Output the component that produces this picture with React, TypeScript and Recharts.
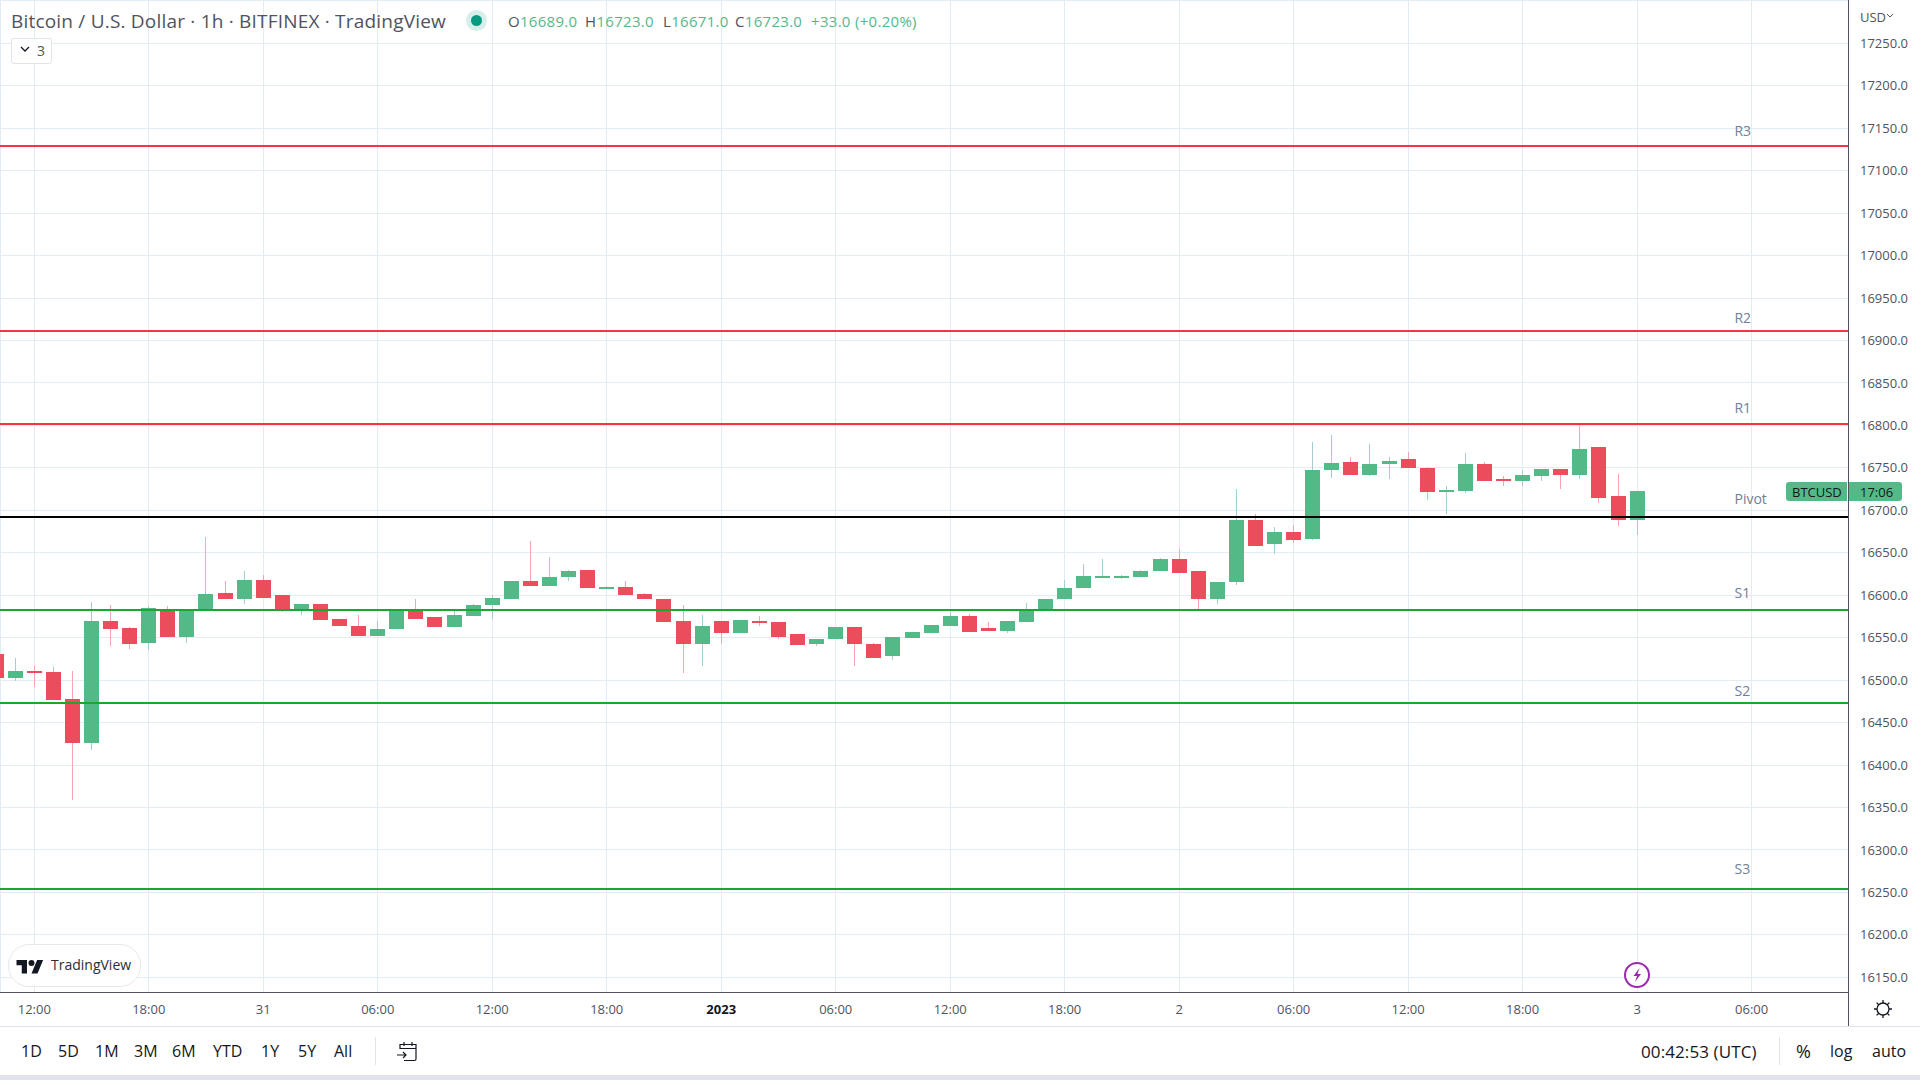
import React from 'react';
import {
  ComposedChart,
  Bar,
  XAxis,
  YAxis,
  CartesianGrid,
  ReferenceLine,
  ReferenceDot,
} from 'recharts';

// hourly candles, hour 0 = 30 Dec 12:00
const firstHour = -2;
const opens = [
  16531, 16502, 16511, 16509, 16478, 16426, 16570, 16561, 16544, 16584, 16551, 16581, 16603, 16596, 16618,
  16600, 16582, 16590, 16572, 16564, 16552, 16560, 16583, 16574, 16563, 16576, 16588, 16596, 16617, 16611,
  16621, 16630, 16608, 16610, 16601, 16595, 16570, 16543, 16570, 16556, 16570, 16569, 16554, 16543, 16548,
  16563, 16543, 16528, 16550, 16556, 16564, 16576, 16561, 16558, 16569, 16583, 16596, 16609, 16622, 16622,
  16622, 16628, 16643, 16628, 16595, 16615, 16689, 16660, 16674, 16666, 16748, 16757, 16741, 16755, 16760,
  16750, 16721, 16723, 16755, 16737, 16734, 16740, 16749, 16741, 16774, 16717, 16689,
];
const closes = [
  16502, 16511, 16508, 16477, 16426, 16570, 16560, 16542, 16585, 16551, 16581, 16602, 16596, 16618, 16597,
  16581, 16590, 16571, 16564, 16552, 16560, 16583, 16572, 16563, 16577, 16588, 16597, 16617, 16611, 16622,
  16629, 16609, 16610, 16600, 16595, 16569, 16543, 16564, 16556, 16571, 16568, 16551, 16541, 16548, 16563,
  16542, 16526, 16551, 16557, 16565, 16576, 16557, 16558, 16570, 16583, 16595, 16608, 16623, 16623, 16623,
  16629, 16643, 16626, 16596, 16615, 16689, 16658, 16674, 16665, 16748, 16756, 16741, 16755, 16758, 16750,
  16721, 16724, 16755, 16735, 16734, 16741, 16749, 16741, 16772, 16715, 16689, 16723,
];
const highs = [
  16533, 16526, 16517, 16516, 16511, 16592, 16589, 16562, 16587, 16587, 16581, 16668, 16617, 16629, 16624,
  16600, 16590, 16590, 16572, 16577, 16570, 16583, 16595, 16574, 16583, 16590, 16600, 16617, 16664, 16645,
  16630, 16630, 16611, 16617, 16603, 16596, 16588, 16577, 16570, 16571, 16575, 16569, 16554, 16548, 16563,
  16563, 16544, 16551, 16557, 16565, 16581, 16578, 16569, 16570, 16591, 16595, 16618, 16637, 16643, 16624,
  16630, 16644, 16654, 16628, 16616, 16725, 16696, 16680, 16683, 16781, 16789, 16763, 16778, 16763, 16769,
  16751, 16729, 16767, 16757, 16740, 16748, 16749, 16749, 16801, 16775, 16743, 16723,
];
const lows = [
  16500, 16499, 16492, 16477, 16359, 16418, 16540, 16537, 16535, 16551, 16544, 16581, 16596, 16590, 16597,
  16580, 16577, 16571, 16564, 16552, 16552, 16560, 16572, 16563, 16563, 16576, 16572, 16595, 16611, 16611,
  16617, 16608, 16608, 16600, 16595, 16569, 16508, 16517, 16542, 16556, 16564, 16549, 16541, 16540, 16548,
  16517, 16526, 16524, 16550, 16556, 16564, 16557, 16558, 16556, 16569, 16583, 16596, 16609, 16622, 16619,
  16622, 16628, 16626, 16584, 16590, 16612, 16658, 16648, 16662, 16665, 16738, 16741, 16740, 16737, 16750,
  16712, 16696, 16720, 16735, 16729, 16729, 16735, 16725, 16737, 16709, 16681, 16671,
];

const timeTicks = [0, 6, 12, 18, 24, 30, 36, 42, 48, 54, 60, 66, 72, 78, 84, 90];
const timeLabels = ['12:00', '18:00', '31', '06:00', '12:00', '18:00', '2023', '06:00', '12:00', '18:00', '2', '06:00', '12:00', '18:00', '3', '06:00'];
const priceTicks = [
  16150, 16200, 16250, 16300, 16350, 16400, 16450, 16500, 16550, 16600, 16650, 16700, 16750, 16800, 16850,
  16900, 16950, 17000, 17050, 17100, 17150, 17200, 17250, 17300,
];

const levelNames = ['R3', 'R2', 'R1', 'Pivot', 'S1', 'S2', 'S3'];
const levelPrices = [17129.6, 16911, 16801.6, 16692.1, 16582.6, 16473.1, 16254];
const levelTagPrices = [17147, 16927, 16821.5, 16714, 16603, 16487.5, 16278];
const levelColors = ['#f23645', '#f23645', '#f23645', '#000000', '#18a82b', '#18a82b', '#18a82b'];

const legendLetters = ['O', 'H', 'L', 'C'];
const legendValues = ['16689.0', '16723.0', '16671.0', '16723.0'];
const legendLefts = [508, 585, 663, 735];

const rangeButtons = ['1D', '5D', '1M', '3M', '6M', 'YTD', '1Y', '5Y', 'All'];
const rangeLefts = [21, 58, 95, 134, 172, 213, 261, 298, 334];

const candles = opens.map((open, i) => ({
  hour: firstHour + i,
  open,
  close: closes[i],
  high: highs[i],
  low: lows[i],
  range: [lows[i], highs[i]],
}));

const FONT = '"Open Sans", sans-serif';
const UP = '#53b987';
const DOWN = '#eb4d5c';

function Candle(props: any) {
  const { x, y, width, height, payload } = props;
  const { open, close, high, low } = payload;
  const k = height / (high - low);
  const up = close >= open;
  const top = y + (high - Math.max(open, close)) * k;
  const bottom = y + (high - Math.min(open, close)) * k;
  const cx = x + width / 2;
  return (
    <g>
      <rect x={Math.round(cx - 0.5)} y={y} width={1} height={height} fill={up ? '#a3d0ce' : '#f8a3ae'} />
      <rect
        x={Math.round(cx - 7.5)}
        y={Math.round(top)}
        width={15}
        height={Math.max(2, Math.round(bottom) - Math.round(top))}
        fill={up ? UP : DOWN}
      />
    </g>
  );
}

function TimeTick(props: any) {
  const { x, y, payload } = props;
  const label = timeLabels[timeTicks.indexOf(payload.value)];
  const bold = label === '2023';
  return (
    <text
      x={x}
      y={y}
      textAnchor="middle"
      dominantBaseline="central"
      fontFamily={FONT}
      fontSize={13}
      fontWeight={bold ? 700 : 400}
      fill={bold ? '#131722' : '#50535e'}
    >
      {label}
    </text>
  );
}

function Txt({ x, y, size = 13, color = '#131722', children, style }: any) {
  return (
    <span
      style={{
        position: 'absolute',
        left: x,
        top: y,
        fontFamily: FONT,
        fontSize: size,
        lineHeight: 1,
        color,
        whiteSpace: 'nowrap',
        transform: 'translateY(-50%)',
        ...style,
      }}
    >
      {children}
    </span>
  );
}

function Box({ x, y, w, h, bg }: any) {
  return <div style={{ position: 'absolute', left: x, top: y, width: w, height: h, background: bg }} />;
}

export default function App() {
  return (
    <div style={{ position: 'absolute', left: 0, top: 0, width: 1920, height: 1080, background: '#fff', overflow: 'hidden' }}>
      <ComposedChart
        width={1920}
        height={1026}
        data={candles}
        margin={{ top: 0, right: 0, bottom: 0, left: 0 }}
        style={{ shapeRendering: 'crispEdges' }}
      >
        <CartesianGrid stroke="#e2ecf2" />
        <XAxis
          dataKey="hour"
          type="number"
          domain={[-1.797, 95.05]}
          allowDataOverflow
          ticks={timeTicks}
          interval={0}
          height={34}
          tick={<TimeTick />}
          tickSize={0}
          tickMargin={17}
          axisLine={{ stroke: '#50535e' }}
        />
        <YAxis
          orientation="right"
          type="number"
          domain={[16132.7, 17301]}
          allowDataOverflow
          ticks={priceTicks}
          interval={0}
          width={72}
          tickSize={0}
          tickMargin={12}
          tickFormatter={(v: number) => (v === 17300 ? '' : v.toFixed(1))}
          tick={{ fontFamily: FONT, fontSize: 13, fill: '#50535e', textAnchor: 'start' }}
          axisLine={{ stroke: '#50535e' }}
        />
        <Bar dataKey="range" barSize={15} shape={<Candle />} isAnimationActive={false} />
        {levelPrices.map((price, i) => (
          <ReferenceLine key={levelNames[i]} y={price} stroke={levelColors[i]} strokeWidth={2} />
        ))}
        {levelNames.map((name, i) => (
          <ReferenceDot
            key={name}
            x={89.1}
            y={levelTagPrices[i]}
            r={0}
            shape={(p: any) => (
              <text x={p.cx} y={p.cy} dominantBaseline="central" fontFamily={FONT} fontSize={14} fill="#6e8196">
                {name}
              </text>
            )}
          />
        ))}
      </ComposedChart>

      {/* header */}
      <Txt x={11} y={21} size={19} color="#50535e" style={{ letterSpacing: 0.2 }}>
        Bitcoin / U.S. Dollar · 1h · BITFINEX · TradingView
      </Txt>
      <div style={{ position: 'absolute', left: 466, top: 10, width: 21, height: 21, borderRadius: 11, background: '#d7efea' }} />
      <div style={{ position: 'absolute', left: 471, top: 15, width: 11, height: 11, borderRadius: 6, background: '#089981' }} />
      {legendLetters.map((letter, i) => (
        <Txt key={letter} x={legendLefts[i]} y={21} size={15} color={UP} style={{ letterSpacing: 0.3 }}>
          <span style={{ color: '#50535e' }}>{letter}</span>
          {legendValues[i]}
        </Txt>
      ))}
      <Txt x={811} y={21} size={15} color={UP} style={{ letterSpacing: 0.3 }}>+33.0 (+0.20%)</Txt>
      <div style={{ position: 'absolute', left: 11, top: 38, width: 39, height: 24, border: '1px solid #e0e3eb', borderRadius: 3, background: '#fff' }} />
      <svg style={{ position: 'absolute', left: 20, top: 46 }} width={12} height={8}>
        <path d="M1 1l4 4 4-4" fill="none" stroke="#131722" strokeWidth={1.3} />
      </svg>
      <Txt x={37} y={51} size={14} color="#50535e">3</Txt>
      <Txt x={1860} y={17} size={13} color="#50535e">USD</Txt>
      <svg style={{ position: 'absolute', left: 1886, top: 13 }} width={8} height={6}>
        <path d="M1 1l3 3 3-3" fill="none" stroke="#50535e" strokeWidth={1} />
      </svg>

      {/* axes chrome */}
      <Box x={1848} y={992} w={1} h={34} bg="#50535e" />
      <Box x={0} y={1026} w={1920} h={1} bg="#e0e3eb" />
      <Box x={0} y={1075} w={1920} h={5} bg="#e0e3eb" />

      {/* price tag */}
      <div style={{ position: 'absolute', left: 1786, top: 482, width: 61, height: 19, background: UP, borderRadius: '3px 0 0 3px' }} />
      <div style={{ position: 'absolute', left: 1849, top: 482, width: 53, height: 19, background: UP, borderRadius: '0 3px 3px 0' }} />
      <Txt x={1792} y={492} size={13} color="#131722">BTCUSD</Txt>
      <Txt x={1860} y={492} size={13} color="#131722">17:06</Txt>

      {/* TradingView badge */}
      <div style={{ position: 'absolute', left: 8, top: 944, width: 131, height: 41, borderRadius: 21, border: '1px solid #e8e8ea', background: '#fff' }} />
      <svg style={{ position: 'absolute', left: 16, top: 957 }} width={28} height={18} viewBox="0 0 36 24">
        <path d="M14 22H7V11H0V4h14v18zM28 22h-8l7.5-18h8L28 22z" fill="#131722" />
        <circle cx={20} cy={8} r={4} fill="#131722" />
      </svg>
      <Txt x={51} y={965} size={14} color="#2a2e39">TradingView</Txt>

      {/* dividends-style marker */}
      <svg style={{ position: 'absolute', left: 1623, top: 961 }} width={28} height={28}>
        <circle cx={14} cy={14} r={12} fill="#fff" stroke="#9c27b0" strokeWidth={2} />
        <path d="M16.5 7l-6 8h3.5l-2 6 6-8h-3.5z" fill="#9c27b0" />
      </svg>

      {/* gear */}
      <svg style={{ position: 'absolute', left: 1873, top: 999 }} width={20} height={20}>
        <circle cx={10} cy={10} r={6} fill="none" stroke="#131722" strokeWidth={1.3} />
        <path d="M10 1v3M10 16v3M1 10h3M16 10h3M3.6 3.6l2.2 2.2M14.2 14.2l2.2 2.2M3.6 16.4l2.2-2.2M14.2 5.8l2.2-2.2" stroke="#131722" strokeWidth={1.3} />
      </svg>

      {/* bottom toolbar */}
      {rangeButtons.map((b, i) => (
        <Txt key={b} x={rangeLefts[i]} y={1051} size={16}>{b}</Txt>
      ))}
      <Box x={375} y={1037} w={1} h={28} bg="#e0e3eb" />
      <svg style={{ position: 'absolute', left: 395, top: 1040 }} width={24} height={22}>
        <path d="M5 9V4.5h16V19a1.5 1.5 0 0 1-1.5 1.5H9M5 8.5h16M9 2v4M17 2v4M2 15h9M8 12l3 3-3 3" fill="none" stroke="#131722" strokeWidth={1.2} />
      </svg>
      <Txt x={1641} y={1051} size={17} style={{ letterSpacing: 0.1 }}>00:42:53 (UTC)</Txt>
      <Box x={1779} y={1037} w={1} h={28} bg="#e0e3eb" />
      <Txt x={1796} y={1051} size={18}>%</Txt>
      <Txt x={1830} y={1051} size={16}>log</Txt>
      <Txt x={1872} y={1051} size={16}>auto</Txt>
    </div>
  );
}
